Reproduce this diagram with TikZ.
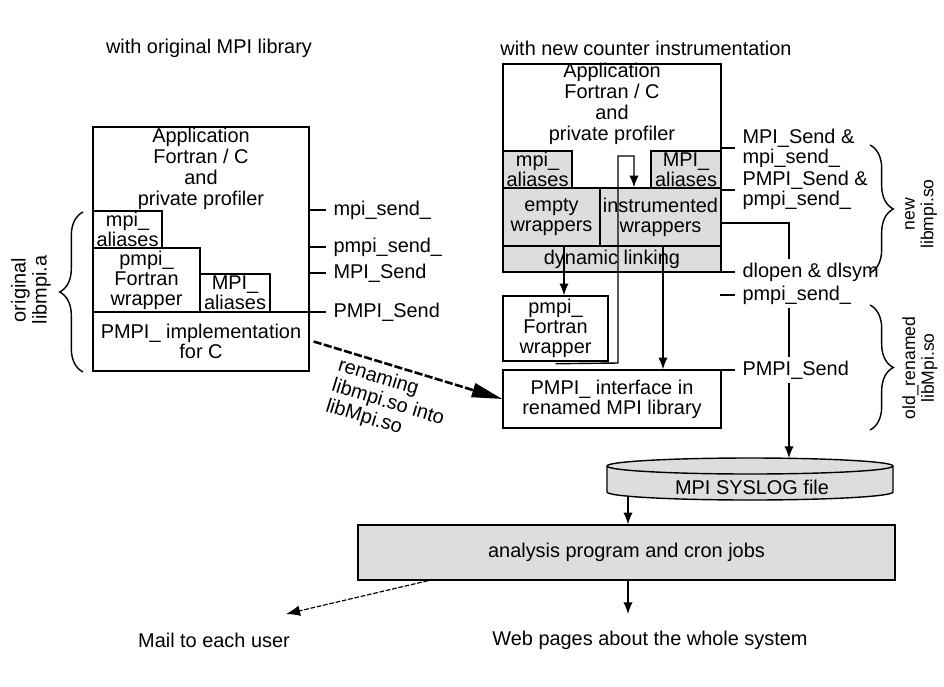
\documentclass[tikz,border=0pt]{standalone}
\usepackage{fontspec}
\setmainfont{Liberation Sans}
\usepackage{tikz}
\usetikzlibrary{arrows.meta, decorations.pathreplacing}
\definecolor{layergrey}{RGB}{221,221,221}
\def\pxlen{0.03cm}
\tikzstyle{stackbox} = [rectangle, draw=black, line width=1.2pt, inner sep=0pt, align=center, font=\fontsize{17}{17}\selectfont]
\tikzstyle{greystack} = [stackbox, fill=layergrey]
\tikzstyle{aliasbox} = [stackbox, font=\fontsize{17}{12}\selectfont]
\tikzstyle{boxtext} = [align=center, inner sep=0pt, font=\fontsize{17}{18}\selectfont]
\tikzstyle{symname} = [anchor=west, align=left, inner xsep=0.22cm, inner ysep=0.1cm, font=\fontsize{17}{17}\selectfont]
\tikzstyle{arrow} = [line width=1.2pt,-{Latex[length=10pt,width=8pt]}]
\tikzstyle{connect} = [line width=1.2pt,-]
\tikzstyle{renamearrow} = [line width=2.2pt, dash pattern=on 7pt off 2pt, -{Triangle[length=26pt,width=12pt]}]
\tikzstyle{mailarrow} = [line width=1pt, dash pattern=on 4pt off 1.5pt, -{Latex[length=12pt,width=9pt]}]
\tikzstyle{libbrace} = [line width=1.2pt, decorate, decoration={brace, amplitude=0.7cm}]

\begin{document}
\begin{tikzpicture}[x=0.03cm, y=-0.03cm]
\useasboundingbox (0,0) rectangle (944,686);

% headings
\node(hleft)[boxtext] at (209,48) {with original MPI library};
\node(hright)[boxtext] at (646,48) {with new counter instrumentation};

% original library
\node(lbox)[stackbox, minimum width=216*\pxlen, minimum height=244*\pxlen] at (201,249) {};
\node(lapp)[boxtext] at (201,169) {Application\\Fortran / C\\and\\private profiler};
\node(lmpia)[aliasbox, minimum width=69*\pxlen, minimum height=37*\pxlen] at (127.5,229.5) {mpi\_\\aliases};
\node(lpfw)[stackbox, minimum width=107*\pxlen, minimum height=64*\pxlen] at (146.5,280) {pmpi\_\\Fortran\\wrapper};
\node(lMPIa)[aliasbox, minimum width=70*\pxlen, minimum height=38*\pxlen] at (235,293) {MPI\_\\aliases};
\node(limpl)[stackbox, minimum width=216*\pxlen, minimum height=59*\pxlen] at (201,341.5) {PMPI\_ implementation\\for C};

\node(lmpisend)[symname] at (326,210) {mpi\_send\_};
\node(lpmpisend)[symname] at (326,247) {pmpi\_send\_};
\node(lMPIsend)[symname] at (326,273) {MPI\_Send};
\node(lPMPIsend)[symname] at (326,312) {PMPI\_Send};
\foreach \s in {lmpisend, lpmpisend, lMPIsend, lPMPIsend}
  \draw[connect] (lbox.east |- \s.west) -- (\s.west);

\draw[libbrace] (83,372) -- (83,212);
\node(oldlib)[boxtext, rotate=90] at (31,290) {original\\libmpi.a};

% new instrumented library
\node(rbox)[stackbox, minimum width=218*\pxlen, minimum height=208*\pxlen] at (612,168) {};
\node(rapp)[boxtext] at (612,104) {Application\\Fortran / C\\and\\private profiler};
\node(rmpia)[aliasbox, fill=layergrey, minimum width=69*\pxlen, minimum height=37*\pxlen] at (537.5,169.5) {mpi\_\\aliases};
\node(rMPIa)[aliasbox, fill=layergrey, minimum width=70*\pxlen, minimum height=37*\pxlen] at (686,169.5) {MPI\_\\aliases};
\node(rempty)[greystack, minimum width=97*\pxlen, minimum height=58*\pxlen] at (551.5,217) {empty\\wrappers};
\node(rinstr)[greystack, minimum width=121*\pxlen, minimum height=58*\pxlen] at (660.5,217) {instrumented\\wrappers};
\node(rdyn)[greystack, minimum width=218*\pxlen, minimum height=26*\pxlen] at (612,259) {dynamic linking};
\node(rpfw)[stackbox, minimum width=105*\pxlen, minimum height=65*\pxlen] at (555.5,328.5) {pmpi\_\\Fortran\\wrapper};
\node(rimpl)[stackbox, minimum width=218*\pxlen, minimum height=58*\pxlen] at (612,399) {PMPI\_ interface in\\renamed MPI library};

\node(rMPIsend)[symname] at (735,148) {MPI\_Send \&\\mpi\_send\_};
\node(rPMPIsend)[symname] at (735,190) {PMPI\_Send \&\\pmpi\_send\_};
\node(rdlopen)[symname] at (735,272) {dlopen \& dlsym};
\node(rpmpisend)[symname] at (735,295) {pmpi\_send\_};
\node(rPMPIif)[symname] at (735,370) {PMPI\_Send};
\foreach \s in {rMPIsend, rPMPIsend, rdlopen, rPMPIif}
  \draw[connect] (rbox.east |- \s.west) -- (\s.west);
\draw[connect] (rpmpisend.west) -- ++(-15,0);

\coordinate (ewdrop) at (564,0);
\coordinate (iwdrop) at (663,0);
\coordinate (fwout) at (618,363);
\coordinate (fwup) at (634,156);
\draw[arrow] (ewdrop |- rempty.south) -- (ewdrop |- rpfw.north);
\draw[arrow] (iwdrop |- rinstr.south) -- (iwdrop |- rimpl.north);
\draw[arrow] ([yshift=-0.06cm]rpfw.south) -- (fwout) |- (fwup) -- (rinstr.north -| fwup);

\draw[libbrace] (870,145) -- (870,273);
\node(newlib)[boxtext, rotate=90, font=\fontsize{15}{16}\selectfont] at (921,214) {new\\libmpi.so};
\draw[libbrace] (870,305) -- (870,430);
\node(renlib)[boxtext, rotate=90, font=\fontsize{15}{16}\selectfont] at (920,368) {old\_renamed\\libMpi.so};

% renaming
\draw[renamearrow] ([xshift=0.12cm]limpl.east) -- (rimpl.west);
\node(renamelbl)[boxtext, rotate=-17, align=left] at (388,403) {renaming\\libmpi.so into\\libMpi.so};

% syslog file
\draw[line width=1.2pt, fill=layergrey] (607,466) -- (607,492) arc[start angle=180, end angle=0, x radius=143, y radius=8] -- (893,466) arc[start angle=0, end angle=-180, x radius=143, y radius=8] -- cycle;
\draw[line width=1.2pt] (607,466) arc[start angle=180, end angle=0, x radius=143, y radius=8];
\node(syslog)[boxtext] at (752,487) {MPI SYSLOG file};
\coordinate (bend) at (789,223);
\coordinate (logtop) at (789,458);
\coordinate (logout) at (628,496);
\draw[connect] (rinstr.east |- bend) -- (bend) -- (bend |- rdlopen.north);
\draw[connect] (bend |- rpmpisend.south) -- (bend |- rPMPIif.north);
\draw[arrow] (bend |- rPMPIif.south) -- (logtop);

% analysis
\node(analysis)[greystack, minimum width=537*\pxlen, minimum height=55*\pxlen] at (626.5,552.5) {analysis program and cron jobs};
\draw[arrow] (logout) -- (logout |- analysis.north);

\node(mail)[boxtext] at (214,640) {Mail to each user};
\node(web)[boxtext] at (650,640) {Web pages about the whole system};
\coordinate (webin) at (628,614);
\coordinate (mailout) at (428,0);
\coordinate (mailin) at (286,614);
\draw[arrow] (analysis.south -| webin) -- (webin);
\draw[mailarrow] (mailout |- analysis.south) -- (mailin);
\end{tikzpicture}
\end{document}
